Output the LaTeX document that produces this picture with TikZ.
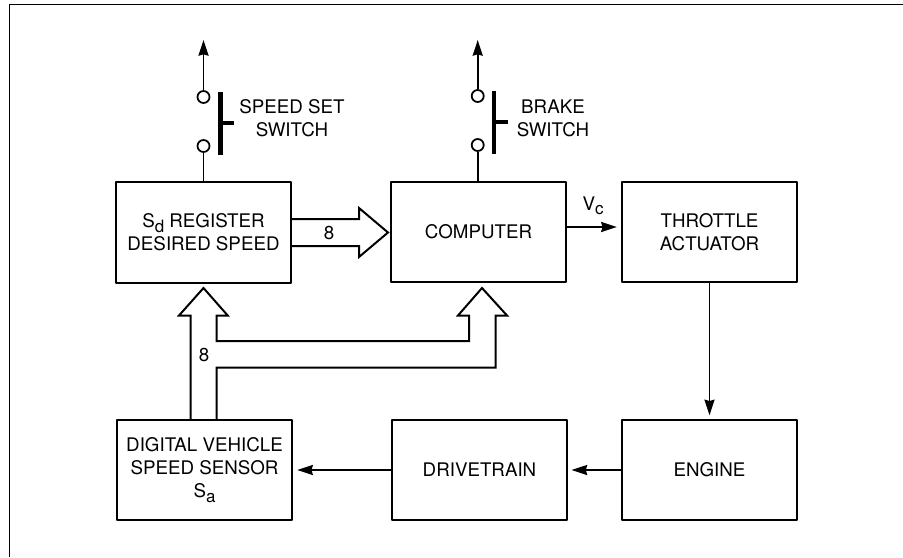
\documentclass[tikz,border=0pt]{standalone}
\usepackage{fontspec}
\setmainfont{TeX Gyre Heros}
\usetikzlibrary{arrows.meta}
\newcommand{\subtxt}[1]{\raisebox{-0.45ex}{\fontsize{14.5}{14.5}\selectfont #1}}
\tikzset{
	block/.style={draw, line width=1.7pt, minimum width=5.26cm, minimum height=3.02cm, align=center, inner sep=0pt},
	txt/.style={align=center, inner sep=0pt},
	term/.style={draw, circle, line width=1.5pt, minimum size=0.36cm, inner sep=0pt},
	wire/.style={line width=1.6pt},
	bus/.style={line width=1.7pt, line join=miter},
	bar/.style={line width=3.8pt},
}
\begin{document}
\begin{tikzpicture}[x=0.03cm, y=-0.03cm, line join=round, font=\fontsize{16}{19.6}\selectfont, >={Stealth[length=0.47cm, width=0.3cm, inset=0.04cm]}]
	\useasboundingbox (0,0) rectangle (903,557);
	% Khung
	\draw[line width=1.4pt] (9.5,557) -- (9.5,4.5) -- (903,4.5);
	% Blocks
	\node[block] (sdreg) at (203.5,232.5) {S\subtxt{d} REGISTER\\DESIRED SPEED};
	\node[block] (computer) at (478.5,232) {COMPUTER};
	\node[block] (throttle) at (709.5,232) {THROTTLE\\ACTUATOR};
	\node[block] (sensor) at (204.5,470) {DIGITAL VEHICLE\\SPEED SENSOR\\S\subtxt{a}};
	\node[block] (drivetrain) at (479.5,470) {DRIVETRAIN};
	\node[block] (engine) at (709.5,470) {ENGINE};
	% Speed set switch
	\node[term] (setup) at (203.5,97) {};
	\node[term] (setdn) at (203.5,146) {};
	\coordinate (setout) at (203.5,40);
	\draw[wire, ->] (setup) -- (setout);
	\draw[wire] (setdn) -- (sdreg.north -| setdn);
	\draw[bar] (220.7,92) -- (220.7,155);
	\draw[bar] (220.7,123) -- (234,123);
	\node[txt] (setlbl) at (292,118.5) {SPEED SET\\SWITCH};
	% Brake switch
	\node[term] (brkup) at (477.7,96) {};
	\node[term] (brkdn) at (477.7,145) {};
	\coordinate (brkout) at (477.7,40);
	\draw[wire, ->] (brkup) -- (brkout);
	\draw[wire] (brkdn) -- (computer.north -| brkdn);
	\draw[bar] (494,91) -- (494,154);
	\draw[bar] (494,122) -- (507.7,122);
	\node[txt] (brklbl) at (553,118.5) {BRAKE\\SWITCH};
	% Bus register - computer
	\draw[bus] (sdreg.east |- 0,219) -- (359,219) -- (359,208) -- (388,232.5) -- (359,257) -- (359,246) -- (sdreg.east |- 0,246);
	\node[txt] (busa) at (329,233) {8};
	% Bus sensor - register, computer
	\draw[bus] (190.7,420) -- (190.7,315.5) -- (179,315.5) -- (203.5,288) -- (227.7,315.5) -- (216.7,315.5) -- (216.7,341) -- (469,341) -- (469,315.5) -- (458,315.5) -- (482,288) -- (507,315.5) -- (495.7,315.5) -- (495.7,367.7) -- (216.7,367.7) -- (216.7,420);
	\node[txt] (busb) at (204,355) {8};
	% Loop
	\draw[wire, ->, shorten >=0.12cm] (computer.east |- 0,227) -- (throttle.west |- 0,227);
	\node[txt] (vc) at (593,206) {V\subtxt{c}};
	\draw[wire, ->, shorten >=0.1cm] (throttle) -- (engine);
	\draw[wire, ->, shorten >=0.1cm] (engine) -- (drivetrain);
	\draw[wire, ->, shorten >=0.12cm] (drivetrain) -- (sensor);
\end{tikzpicture}
\end{document}
